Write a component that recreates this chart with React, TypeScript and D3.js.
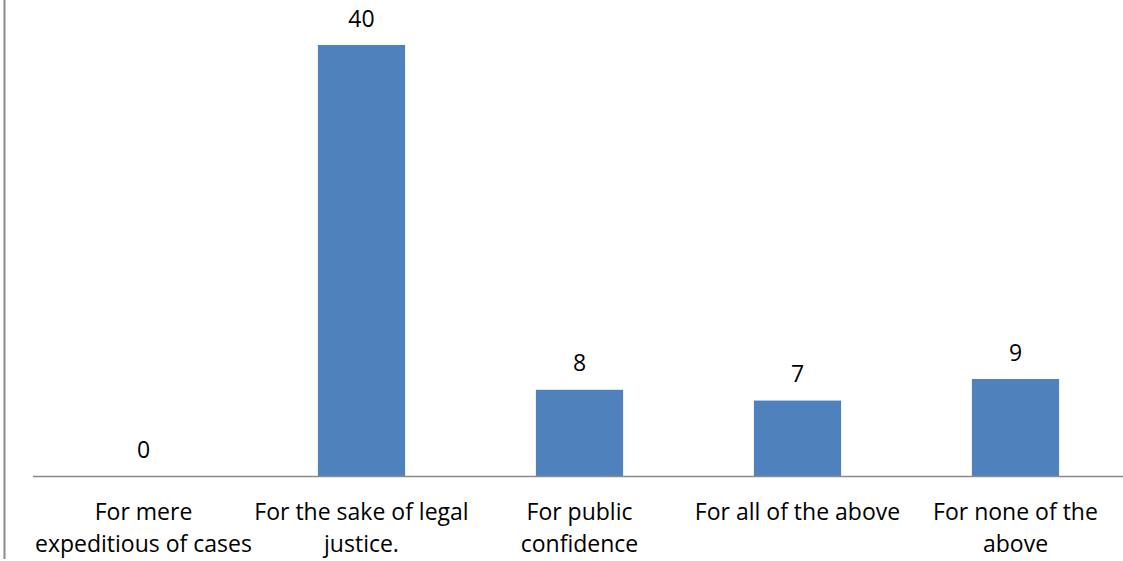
import React from "react";
import * as d3 from "d3";

const categories: string[][] = [
  ["For mere", "expeditious of cases"],
  ["For the sake of legal", "justice."],
  ["For public", "confidence"],
  ["For all of the above"],
  ["For none of the", "above"],
];
const values: number[] = [0, 40, 8, 7, 9];

const W = 1123;
const H = 561;
const FONT = "'Open Sans', Lato, sans-serif";

export default function App() {
  const x = d3
    .scaleBand<number>()
    .domain(values.map((_, i) => i))
    .range([34.5, 1124.5])
    .paddingInner(0.6)
    .paddingOuter(0.3);
  const y = d3.scaleLinear().domain([0, 40]).range([476, 45]);
  const bw = x.bandwidth();

  return (
    <svg
      width={W}
      height={H}
      style={{ position: "absolute", left: 0, top: 0, background: "#fff" }}
    >
      <line x1={4.5} x2={4.5} y1={0} y2={559} stroke="#8a8a8a" strokeWidth={2} />
      {values.map((v, i) => (
        <g key={i}>
          <rect
            x={x(i)!}
            y={y(v)}
            width={bw}
            height={y(0) - y(v)}
            fill="#4F81BD"
          />
          <text
            x={x(i)! + bw / 2}
            y={y(v) - 18.5}
            textAnchor="middle"
            fontFamily={FONT}
            fontSize={23}
            fill="#000"
          >
            {v}
          </text>
          {categories[i].map((line, j) => (
            <text
              key={j}
              x={x(i)! + bw / 2}
              y={520 + j * 32}
              textAnchor="middle"
              fontFamily={FONT}
              fontSize={23}
              fill="#000"
            >
              {line}
            </text>
          ))}
        </g>
      ))}
      <line x1={33} x2={W} y1={476.5} y2={476.5} stroke="#8a8a8a" strokeWidth={1.5} />
    </svg>
  );
}
